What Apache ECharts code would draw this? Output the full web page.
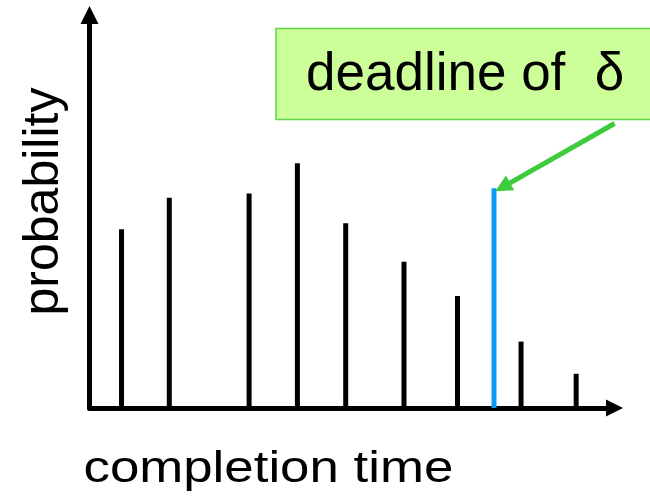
<!DOCTYPE html>
<html>
<head>
<meta charset="utf-8">
<script src="https://cdn.jsdelivr.net/npm/echarts@6/dist/echarts.min.js"></script>
<style>
  html, body { margin: 0; padding: 0; background: #fff; }
  #main { width: 650px; height: 501px; }
</style>
</head>
<body>
<div id="main"></div>
<script>
// completion times (x) and their probabilities (y)
var times = [6.1, 15.2, 30.4, 39.6, 48.8, 59.9, 70.1, 82.2, 92.7];
var probs = [0.455, 0.535, 0.546, 0.623, 0.470, 0.372, 0.285, 0.169, 0.087];
var deadline = 77.05;
var deadlineTop = 0.559;
var arrowFrom = [100, 0.724];
var arrowTo = [78.7, 0.562];

var font = '"Liberation Sans", Arial, sans-serif';

var myChart = echarts.init(document.getElementById('main'));
var option = {
  animation: false,
  grid: { left: 89.5, right: 35.5, top: 15, bottom: 93 },
  xAxis: {
    type: 'value',
    min: 0,
    max: 100,
    axisLine: {
      show: true,
      onZero: false,
      symbol: ['none', 'triangle'],
      symbolSize: [17, 17],
      lineStyle: { color: '#000', width: 5 }
    },
    axisTick: { show: false },
    axisLabel: { show: false },
    splitLine: { show: false }
  },
  yAxis: {
    type: 'value',
    min: 0,
    max: 1,
    axisLine: {
      show: true,
      symbol: ['none', 'triangle'],
      symbolSize: [18, 18],
      lineStyle: { color: '#000', width: 5 }
    },
    axisTick: { show: false },
    axisLabel: { show: false },
    splitLine: { show: false }
  },
  series: [
    {
      type: 'bar',
      barWidth: 5,
      itemStyle: { color: '#000' },
      data: times.map(function (t, i) { return [t, probs[i]]; })
    },
    {
      type: 'line',
      showSymbol: false,
      lineStyle: { color: '#0a9af5', width: 5 },
      data: [[deadline, 0], [deadline, deadlineTop]],
      markLine: {
        silent: true,
        symbol: ['none', 'triangle'],
        symbolSize: [17, 17],
        label: { show: false },
        lineStyle: { color: '#3dcc3d', width: 5, type: 'solid' },
        data: [[{ coord: arrowFrom }, { coord: arrowTo }]]
      }
    }
  ],
  graphic: [
    {
      type: 'rect',
      shape: { x: 276, y: 28.5, width: 400, height: 91 },
      style: { fill: '#ccff99', stroke: '#5fd14a', lineWidth: 1.5 }
    },
    {
      type: 'text',
      x: 306, y: 75,
      style: { text: 'deadline of  δ', font: '53px ' + font, fill: '#000', align: 'left', verticalAlign: 'middle' }
    },
    {
      type: 'text',
      x: 44.5, y: 201.5,
      rotation: Math.PI / 2,
      style: { text: 'probability', font: '50px ' + font, fill: '#000', align: 'center', verticalAlign: 'middle' }
    },
    {
      type: 'text',
      x: 83.5, y: 469.5,
      scaleX: 1.2,
      style: { text: 'completion time', font: '44px ' + font, fill: '#000', align: 'left', verticalAlign: 'middle' }
    }
  ]
};
myChart.setOption(option);
</script>
</body>
</html>
